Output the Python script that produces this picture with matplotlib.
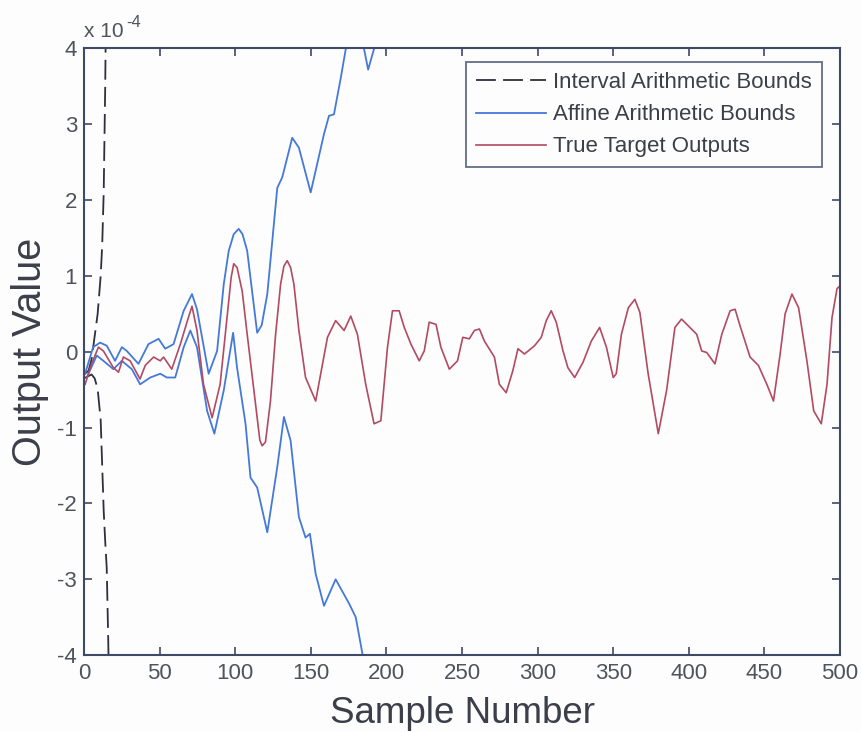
import matplotlib
matplotlib.use("Agg")
import matplotlib.pyplot as plt
import numpy as np

plt.rcParams['font.family'] = ['Liberation Sans', 'DejaVu Sans']
plt.rcParams['axes.unicode_minus'] = False

# Values in units of 1e-4
true_x = [0.7, 5, 9.5, 12.8, 19.4, 22.8, 26, 30.5, 37, 40.5, 46, 50.4, 52.6, 58, 63.7, 69, 71.4,
          74.7, 79, 84.7, 90, 95.7, 97.3, 99, 101.2, 104.6, 107.9, 114.5, 116.3, 117.8, 120, 123.3,
          126.7, 130, 132.2, 134.4, 136.6, 138.8, 142.1, 146.5, 153.2,
          161, 166.4, 172, 176.4, 180.8, 186.3, 191.8, 196.3, 200.7, 204, 208.4, 211.8, 216.2,
          221.7, 225, 228.3, 232.8, 236, 241.6, 247, 250.5, 254.8, 258.2, 261.5, 264.8, 271.4,
          274.7, 279.2, 283.6, 287, 291.3, 298, 302.4, 305.7, 309, 312.3, 316.8, 320, 324.5, 330,
          335.5, 341, 345.5, 350, 352, 355.4, 360, 364.3, 367.6, 373.1, 379.8, 385.3, 390.8,
          395.2, 400.7, 405.2, 408.5, 411.8, 417.3, 421.8, 427.3, 430.6, 433.9, 440.5, 446,
          451.6, 456, 460.4, 463.7, 468.2, 472.6, 478.1, 482.6, 487.6, 491.4, 494.7, 498, 500]
true_y = [-0.43, -0.16, 0.06, 0.01, -0.21, -0.27, -0.07, -0.12, -0.36, -0.18, -0.07, -0.12, -0.07,
          -0.23, 0.10, 0.45, 0.60, 0.28, -0.43, -0.87, -0.43, 0.67, 0.98, 1.16, 1.11, 0.80, 0.23,
          -0.87, -1.17, -1.24, -1.19, -0.65, 0.23, 0.89, 1.13, 1.20, 1.11, 0.89, 0.28,
          -0.34, -0.65, 0.19, 0.41, 0.28, 0.47, 0.23, -0.43, -0.95, -0.91, 0.06,
          0.54, 0.54, 0.32, 0.10, -0.12, 0.01, 0.39, 0.36, 0.06, -0.23, -0.12, 0.19, 0.17, 0.28,
          0.30, 0.14, -0.07, -0.43, -0.54, -0.25, 0.04, -0.03, 0.08, 0.19, 0.41, 0.54, 0.39, 0.01,
          -0.21, -0.34, -0.14, 0.14, 0.32, 0.06, -0.34, -0.29, 0.23, 0.58, 0.69, 0.52, -0.29, -1.08,
          -0.51, 0.32, 0.43, 0.32, 0.23, 0.01, -0.01, -0.16, 0.23, 0.54, 0.56, 0.34, -0.07, -0.18,
          -0.43, -0.65, -0.03, 0.50, 0.76, 0.58, -0.12, -0.78, -0.95, -0.43, 0.45, 0.83, 0.87]

affine_up_x = [0.7, 6, 10.6, 15, 20.5, 25, 28.3, 36, 42.6, 49.3, 53.7, 59.2, 65.9, 71.4, 74.7,
               82.4, 88, 92.4, 95.7, 99, 102.3, 104.8, 107.9, 114.5, 117.5, 121.2, 127.8, 131.1,
               137.7, 142.1, 149.9, 158.7, 162, 165.3, 169.8, 173.1, 179, 185.2, 187.9, 191.9, 200]
affine_up_y = [-0.29, 0.06, 0.12, 0.08, -0.12, 0.06, 0.01, -0.16, 0.10, 0.17, 0.04, 0.10, 0.54,
               0.76, 0.56, -0.29, 0.01, 0.89, 1.33, 1.55, 1.62, 1.55, 1.33, 0.25, 0.35, 0.76, 2.16,
               2.30, 2.82, 2.69, 2.10, 2.87, 3.11, 3.13, 3.61, 3.99, 4.4, 3.99, 3.72, 4.0, 5.0]

affine_lo_x = [1.8, 8.4, 12.8, 19.4, 25, 31.6, 37.1, 43.8, 50.4, 54.8, 60.3, 65.9, 70.3, 74.7,
               81.4, 86.2, 92.4, 98.6, 101.2, 106.8, 110.1, 114.5, 121.2, 127.8, 132.2, 136.6,
               142.1, 146.5, 149.4, 153.2, 158.7, 166.4, 175.3, 179.7, 184.1, 190]
affine_lo_y = [-0.34, -0.05, -0.12, -0.23, -0.12, -0.23, -0.43, -0.34, -0.29, -0.34, -0.34, 0.06,
               0.28, 0.06, -0.78, -1.08, -0.51, 0.25, -0.21, -0.95, -1.66, -1.79, -2.38, -1.52,
               -0.86, -1.17, -2.18, -2.45, -2.40, -2.93, -3.35, -3.00, -3.32, -3.50, -3.98, -4.8]

interval_up_x = [0, 3, 5, 7, 9, 10, 11, 12, 13, 14, 15]
interval_up_y = [-0.30, -0.25, -0.10, 0.20, 0.50, 0.75, 1.00, 1.40, 2.10, 3.50, 5.50]
interval_lo_x = [0, 5, 7, 9, 11, 12, 13, 14, 15, 16, 17]
interval_lo_y = [-0.35, -0.30, -0.35, -0.49, -0.90, -1.50, -2.10, -2.50, -2.85, -3.80, -5.00]

x_ticks = [0, 50, 100, 150, 200, 250, 300, 350, 400, 450, 500]
y_ticks = [-4, -3, -2, -1, 0, 1, 2, 3, 4]

blue = '#4479d9'
red = '#b24a62'
dashc = '#2e3040'
framec = '#3f4a66'
textc = '#3c3f4a'
tickc = '#50535c'

fig = plt.figure(figsize=(8.62, 7.32), dpi=100, facecolor='#fdfdfd')
ax = fig.add_axes([0.0975, 0.105, 0.877, 0.829], facecolor='#fdfdfd')

kw = dict(solid_joinstyle='round')
l1, = ax.plot(interval_up_x, interval_up_y, color=dashc, lw=1.3, dashes=(11, 4),
              label='Interval Arithmetic Bounds')
ax.plot(interval_lo_x, interval_lo_y, color=dashc, lw=1.3, dashes=(11, 4))
l2, = ax.plot(affine_up_x, affine_up_y, color=blue, lw=1.3, label='Affine Arithmetic Bounds', **kw)
ax.plot(affine_lo_x, affine_lo_y, color=blue, lw=1.3, **kw)
l3, = ax.plot(true_x, true_y, color=red, lw=1.2, label='True Target Outputs', **kw)

ax.set_xlim(0, 500)
ax.set_ylim(-4, 4)
ax.set_xticks(x_ticks)
ax.set_yticks(y_ticks)
ax.tick_params(direction='in', length=6, width=1.2, top=True, right=True,
               colors=framec, labelcolor=tickc, labelsize=16)
ax.tick_params(axis='x', pad=6)
ax.tick_params(axis='y', pad=5)
for sp in ax.spines.values():
    sp.set_color(framec)
    sp.set_linewidth(1.5)

ax.set_xlabel('Sample Number', fontsize=26.5, color=textc, labelpad=8)
ax.set_ylabel('Output Value', fontsize=28.5, color=textc, labelpad=6)
ax.text(0.0, 1.018, 'x 10', transform=ax.transAxes, fontsize=15, color=tickc,
        ha='left', va='baseline')
ax.text(0.056, 1.035, '-4', transform=ax.transAxes, fontsize=12, color=tickc,
        ha='left', va='baseline')

leg = ax.legend(handles=[l1, l2, l3], loc='upper right', bbox_to_anchor=(0.976, 0.977),
                fontsize=16, frameon=True, fancybox=False, edgecolor=framec,
                handlelength=3.15, borderpad=0.45, labelspacing=0.5, handletextpad=0.3,
                borderaxespad=0)
leg.get_frame().set_linewidth(1.3)
leg.get_frame().set_facecolor('#fdfdfd')
for t in leg.get_texts():
    t.set_color(textc)

fig.savefig('out.png', dpi=100, facecolor=fig.get_facecolor())
